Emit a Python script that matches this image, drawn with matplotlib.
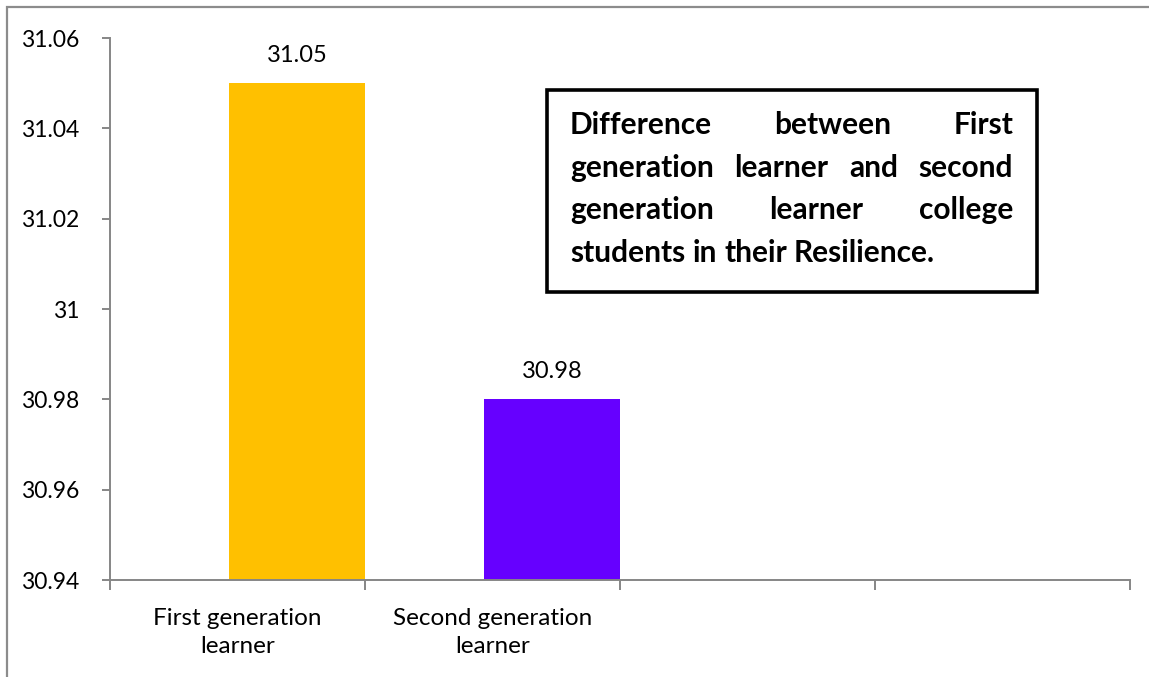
import matplotlib
matplotlib.use("Agg")
import matplotlib.pyplot as plt
from matplotlib.patches import Rectangle

plt.rcParams['font.family'] = ['Lato', 'DejaVu Sans']

# data
categories = ['First generation\nlearner', 'Second generation\nlearner', '', '']
values = [31.05, 30.98]
colors = ['#FFC000', '#6600FF']
yticks = [30.94, 30.96, 30.98, 31.0, 31.02, 31.04, 31.06]
ytick_labels = ['30.94', '30.96', '30.98', '31', '31.02', '31.04', '31.06']
box_lines = ['Difference between First',
             'generation learner and second',
             'generation learner college',
             'students in their Resilience.']

W, H = 1149, 677
fig = plt.figure(figsize=(W / 100, H / 100), dpi=100)
ax = fig.add_axes([110 / W, 1 - 580 / H, (1130 - 110) / W, (580 - 38) / H])

# outer chart frame (runs off the right and bottom edge)
fig.patches.append(Rectangle((7 / W, -0.05), 1.1, 1 - 7 / H + 0.05,
                             transform=fig.transFigure, fill=False,
                             edgecolor='#8c8c8c', linewidth=1.6))

xpos = range(len(values))
bar_w = 0.533
ax.bar([i + 0.5 - bar_w / 2 for i in xpos], values, width=bar_w,
       color=colors, bottom=0)
ax.set_ylim(30.94, 31.06)
ax.set_xlim(-0.5, len(categories) - 0.5)

for i, v in enumerate(values):
    ax.annotate(f'{v:.2f}', (i + 0.5 - bar_w / 2, v), xytext=(0, 20),
                textcoords='offset points', ha='center', va='center',
                fontsize=17, color='black')

gray = '#868686'
for s in ['top', 'right']:
    ax.spines[s].set_visible(False)
for s in ['left', 'bottom']:
    ax.spines[s].set_color(gray)
    ax.spines[s].set_linewidth(1.4)

ax.set_yticks(yticks)
ax.set_yticklabels(ytick_labels, fontsize=16.5)
ax.tick_params(axis='y', length=6, width=1.4, color=gray, pad=16)

ax.set_xticks(range(len(categories)))
ax.set_xticklabels(categories, fontsize=17.5, linespacing=1.45)
ax.set_xticks([i - 0.5 for i in range(len(categories) + 1)], minor=True)
ax.tick_params(axis='x', which='major', length=0, pad=20)
ax.tick_params(axis='x', which='minor', length=7, width=1.4, color=gray,
               direction='out')

# boxed note with justified bold text
fig.patches.append(Rectangle((547 / W, 1 - 292 / H), (1037 - 547) / W,
                             (292 - 90) / H, transform=fig.transFigure,
                             fill=False, edgecolor='black', linewidth=2.6))
renderer = fig.canvas.get_renderer()
box_fs = 21.5
left, right = 570, 1013
line_y = [125, 168, 210, 253]
for n, (line, y) in enumerate(zip(box_lines, line_y)):
    words = line.split()
    texts = [fig.text(0, 1 - y / H, w, fontsize=box_fs, fontweight='bold',
                      va='center', ha='left') for w in words]
    widths = [t.get_window_extent(renderer).width for t in texts]
    if n == len(box_lines) - 1:
        space = fig.text(0, 0, 'a b', fontsize=box_fs, fontweight='bold')
        sw = space.get_window_extent(renderer).width
        space.remove()
        aw = fig.text(0, 0, 'ab', fontsize=box_fs, fontweight='bold')
        gap = sw - aw.get_window_extent(renderer).width
        aw.remove()
    else:
        gap = (right - left - sum(widths)) / (len(words) - 1)
    x = left
    for t, w in zip(texts, widths):
        t.set_x(x / W)
        x += w + gap

fig.savefig('out.png', dpi=100, facecolor='white')
